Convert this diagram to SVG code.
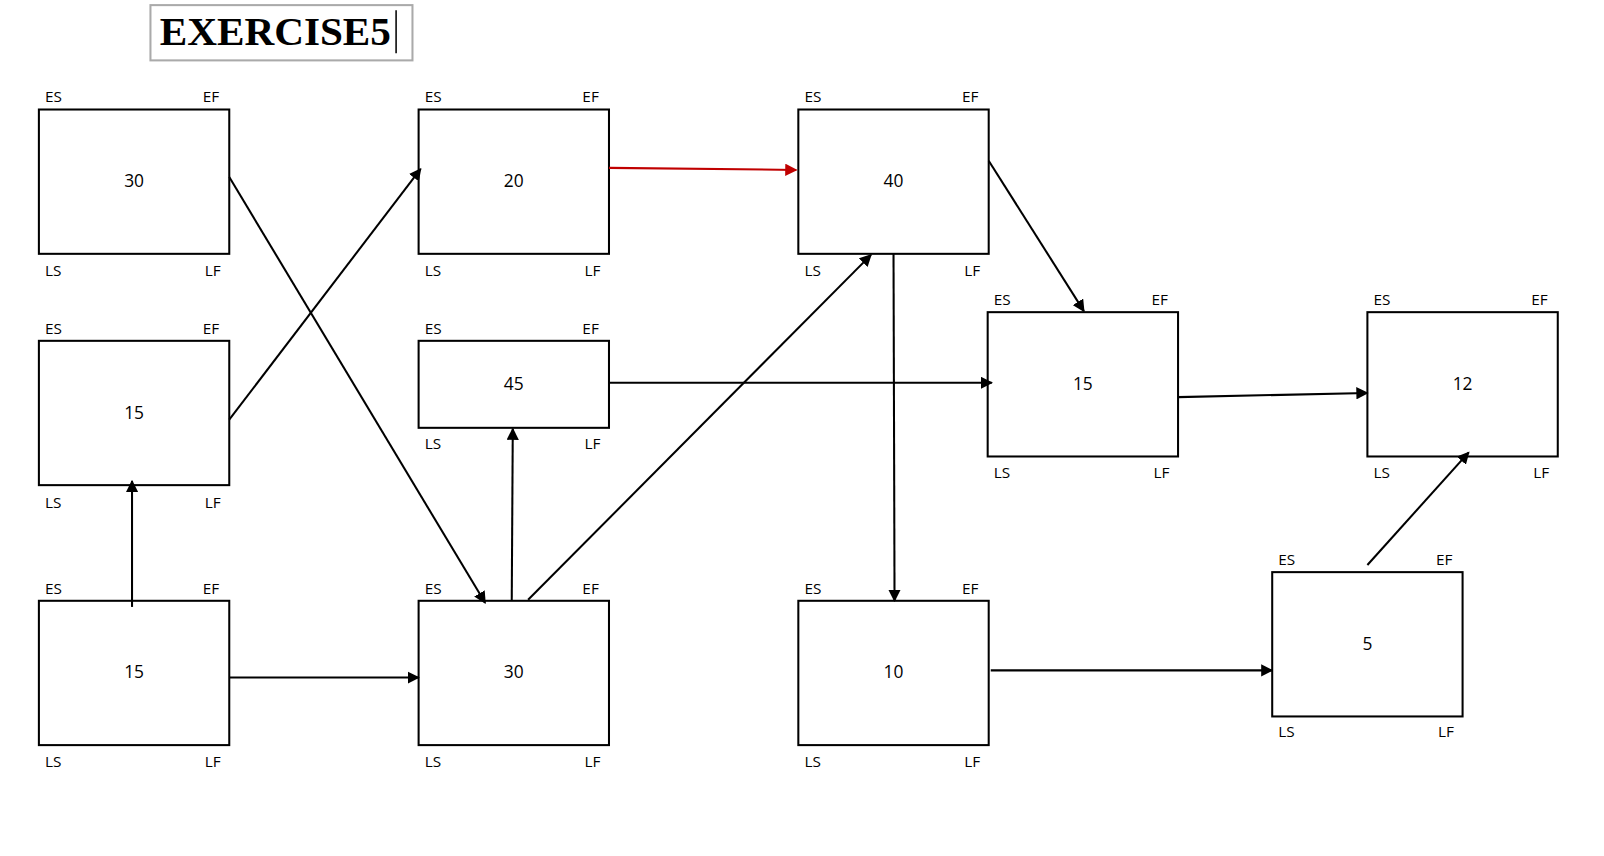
<svg xmlns="http://www.w3.org/2000/svg" width="1604" height="856" viewBox="0 0 1604 856">
<style>
.b{fill:#fff;stroke:#000;stroke-width:2}
.n{font-family:"Open Sans","DejaVu Sans",sans-serif;font-size:17px;text-anchor:middle;fill:#000}
.l{font-family:"Open Sans","DejaVu Sans",sans-serif;font-size:15px;fill:#000}
.c{stroke:#000;stroke-width:2;fill:none;marker-end:url(#a)}
</style>
<defs>
<marker id="a" viewBox="0 0 10 10" refX="9" refY="5" markerWidth="6" markerHeight="6" orient="auto"><path d="M0,0L10,5L0,10z" fill="#000"/></marker>
<marker id="r" viewBox="0 0 10 10" refX="9" refY="5" markerWidth="6" markerHeight="6" orient="auto"><path d="M0,0L10,5L0,10z" fill="#c00000"/></marker>
</defs>
<rect width="1604" height="856" fill="#fff"/>
<g transform="scale(1.0235)">
<g id="title"><rect x="147" y="5" width="256" height="54" fill="#fff" stroke="#aaa" stroke-width="2"/>
<text x="156" y="44" font-family="Liberation Serif,serif" font-weight="bold" font-size="40" textLength="226" lengthAdjust="spacingAndGlyphs">EXERCISE5</text>
<line x1="387" y1="10" x2="387" y2="52" stroke="#000" stroke-width="1.5"/></g>
<g id="A"><rect class="b" x="38" y="107" width="186" height="141"/><text class="n" x="131" y="183">30</text><text class="l" x="44" y="100">ES</text><text class="l" x="198" y="100">EF</text><text class="l" x="44" y="270">LS</text><text class="l" x="200" y="270">LF</text></g>
<g id="B"><rect class="b" x="38" y="333" width="186" height="141"/><text class="n" x="131" y="409">15</text><text class="l" x="44" y="326">ES</text><text class="l" x="198" y="326">EF</text><text class="l" x="44" y="496">LS</text><text class="l" x="200" y="496">LF</text></g>
<g id="C"><rect class="b" x="38" y="587" width="186" height="141"/><text class="n" x="131" y="662">15</text><text class="l" x="44" y="580">ES</text><text class="l" x="198" y="580">EF</text><text class="l" x="44" y="749">LS</text><text class="l" x="200" y="749">LF</text></g>
<g id="D"><rect class="b" x="409" y="107" width="186" height="141"/><text class="n" x="502" y="183">20</text><text class="l" x="415" y="100">ES</text><text class="l" x="569" y="100">EF</text><text class="l" x="415" y="270">LS</text><text class="l" x="571" y="270">LF</text></g>
<g id="E"><rect class="b" x="409" y="333" width="186" height="85"/><text class="n" x="502" y="381">45</text><text class="l" x="415" y="326">ES</text><text class="l" x="569" y="326">EF</text><text class="l" x="415" y="439">LS</text><text class="l" x="571" y="439">LF</text></g>
<g id="F"><rect class="b" x="409" y="587" width="186" height="141"/><text class="n" x="502" y="662">30</text><text class="l" x="415" y="580">ES</text><text class="l" x="569" y="580">EF</text><text class="l" x="415" y="749">LS</text><text class="l" x="571" y="749">LF</text></g>
<g id="G"><rect class="b" x="780" y="107" width="186" height="141"/><text class="n" x="873" y="183">40</text><text class="l" x="786" y="100">ES</text><text class="l" x="940" y="100">EF</text><text class="l" x="786" y="270">LS</text><text class="l" x="942" y="270">LF</text></g>
<g id="H"><rect class="b" x="780" y="587" width="186" height="141"/><text class="n" x="873" y="662">10</text><text class="l" x="786" y="580">ES</text><text class="l" x="940" y="580">EF</text><text class="l" x="786" y="749">LS</text><text class="l" x="942" y="749">LF</text></g>
<g id="I"><rect class="b" x="965" y="305" width="186" height="141"/><text class="n" x="1058" y="381">15</text><text class="l" x="971" y="298">ES</text><text class="l" x="1125" y="298">EF</text><text class="l" x="971" y="467">LS</text><text class="l" x="1127" y="467">LF</text></g>
<g id="J"><rect class="b" x="1336" y="305" width="186" height="141"/><text class="n" x="1429" y="381">12</text><text class="l" x="1342" y="298">ES</text><text class="l" x="1496" y="298">EF</text><text class="l" x="1342" y="467">LS</text><text class="l" x="1498" y="467">LF</text></g>
<g id="K"><rect class="b" x="1243" y="559" width="186" height="141"/><text class="n" x="1336" y="635">5</text><text class="l" x="1249" y="552">ES</text><text class="l" x="1403" y="552">EF</text><text class="l" x="1249" y="720">LS</text><text class="l" x="1405" y="720">LF</text></g>
<g id="connectors">
<line class="c" x1="224" y1="173" x2="474" y2="589"/>
<line class="c" x1="224" y1="410" x2="411" y2="165"/>
<line class="c" x1="129" y1="593" x2="129" y2="470"/>
<line class="c" x1="224" y1="662" x2="409" y2="662"/>
<line x1="595" y1="164" x2="778" y2="166" stroke="#c00000" stroke-width="2" marker-end="url(#r)"/>
<line class="c" x1="595" y1="374" x2="969" y2="374"/>
<line class="c" x1="500" y1="587" x2="501" y2="419"/>
<line class="c" x1="516" y1="586" x2="851" y2="249"/>
<line class="c" x1="966" y1="157" x2="1059" y2="304"/>
<line class="c" x1="873" y1="248" x2="874" y2="587"/>
<line class="c" x1="968" y1="655" x2="1243" y2="655"/>
<line class="c" x1="1151" y1="388" x2="1336" y2="384"/>
<line class="c" x1="1336" y1="552" x2="1435" y2="442"/>
</g>
</g>
</svg>
